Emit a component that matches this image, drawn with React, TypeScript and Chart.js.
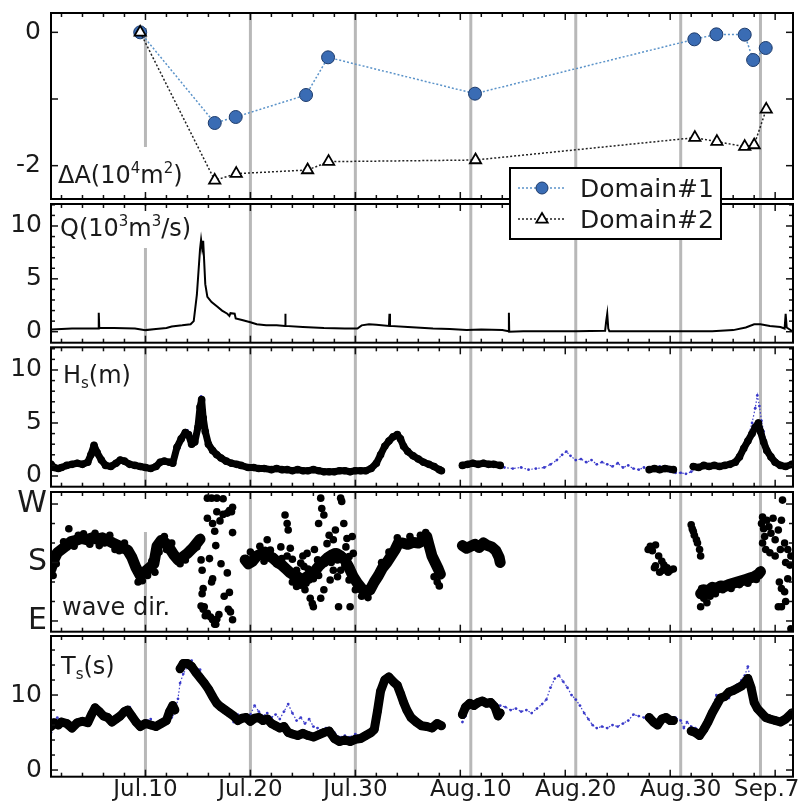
import React, { useEffect, useRef } from 'react';
import { Chart, registerables } from 'chart.js';
Chart.register(...registerables);

type Pt = [number, number | null];

// ---------------- data (x = days since Jul.1 00:00) ----------------
const surveyDays = [9, 19, 29, 40, 50, 60, 67.6];
const xLabelDays = [9, 19, 29, 40, 50, 60, 68.2];
const xLabelTexts = ['Jul.10', 'Jul.20', 'Jul.30', 'Aug.10', 'Aug.20', 'Aug.30', 'Sep.7'];
const xMajorTickDays = [9, 19, 29, 39, 49, 59, 69];
const xMinorTickDays = [1, 3, 5, 7, 11, 13, 15, 17, 21, 23, 25, 27, 31, 33, 35, 37, 41, 43, 45, 47, 51, 53, 55, 57, 61, 63, 65, 67];

const domain1: Pt[] = [[8.5, 0], [15.6, -1.36], [17.6, -1.27], [24.3, -0.94], [26.4, -0.375], [40.4, -0.92], [61.3, -0.105], [63.4, -0.03], [66.1, -0.035], [66.9, -0.415], [68.1, -0.235]];
const domain2: Pt[] = [[8.5, 0], [15.6, -2.22], [17.65, -2.12], [24.45, -2.065], [26.45, -1.94], [40.45, -1.915], [61.35, -1.58], [63.45, -1.64], [66.1, -1.715], [67.0, -1.69], [68.15, -1.155]];

const discharge: Pt[] = [[0, 0.2], [1, 0.25], [2, 0.3], [3, 0.3], [4.5, 0.3], [4.55, 1.8], [4.6, 0.35], [6, 0.35], [8, 0.3], [9, 0.15], [10, 0.25], [11, 0.35], [11.5, 0.5], [12.5, 0.6], [13.3, 0.7], [13.6, 1.0], [13.9, 3.5], [14.2, 7.8], [14.3, 8.7], [14.4, 7.9], [14.5, 8.6], [14.7, 4.5], [14.9, 3.3], [15.3, 2.8], [15.8, 2.4], [16.3, 2.0], [16.8, 1.7], [17.0, 1.5], [17.1, 1.75], [17.5, 1.7], [17.6, 1.25], [18.2, 1.1], [19, 0.9], [19.6, 0.7], [20.5, 0.6], [21.5, 0.6], [22.3, 0.55], [22.32, 1.7], [22.36, 0.55], [24, 0.45], [26, 0.35], [28, 0.3], [29.2, 0.3], [29.6, 0.6], [30.3, 0.7], [31, 0.65], [32.2, 0.55], [32.25, 1.7], [32.3, 0.55], [34, 0.45], [36.4, 0.3], [38, 0.25], [39.6, 0.15], [41, 0.2], [43.0, 0.15], [43.6, 0.05], [43.63, 1.8], [43.66, 0.0], [45, 0.05], [48, 0.05], [50, 0.05], [52.8, 0.1], [52.9, 1.0], [53.0, 1.7], [53.1, 0.3], [53.2, 0.05], [56, 0.05], [60, 0.05], [63, 0.05], [65, 0.15], [66.2, 0.4], [67.0, 0.7], [67.6, 0.7], [68.5, 0.55], [69.5, 0.45], [69.9, 0.3], [70.0, 1.7], [70.1, 0.4], [70.7, 0.0]];

const hsObserved: Pt[] = [[0, 1.1], [0.3, 0.8], [0.7, 0.7], [1, 0.8], [1.5, 1.0], [2, 1.1], [2.5, 1.2], [3, 1.1], [3.5, 1.3], [3.8, 2.0], [4.1, 2.9], [4.4, 2.2], [4.8, 1.5], [5.2, 1.0], [5.7, 0.9], [6.2, 1.2], [6.6, 1.5], [7, 1.4], [7.5, 1.1], [8, 1.0], [8.5, 0.9], [9, 0.8], [9.5, 0.7], [10, 0.9], [10.4, 1.3], [10.8, 1.4], [11.3, 1.3], [11.6, 1.2], [12, 2.7], [12.4, 3.5], [12.8, 4.1], [13.1, 3.9], [13.4, 3.0], [13.7, 3.2], [14, 4.6], [14.2, 6.5], [14.35, 7.2], [14.5, 5.5], [14.7, 4.2], [15, 3.0], [15.4, 2.4], [15.8, 2.0], [16.2, 1.7], [16.7, 1.4], [17.2, 1.2], [17.7, 1.1], [18.1, 1.0], [18.8, 0.8], [19.3, 0.8], [19.8, 0.7], [20.3, 0.7], [21, 0.6], [21.5, 0.7], [22, 0.6], [22.5, 0.6], [23, 0.5], [23.5, 0.6], [24, 0.5], [24.5, 0.5], [25, 0.6], [25.5, 0.5], [26, 0.4], [26.5, 0.4], [27, 0.4], [27.5, 0.5], [28, 0.5], [28.5, 0.4], [29, 0.5], [29.5, 0.5], [30, 0.5], [30.5, 0.7], [31, 1.2], [31.4, 2.0], [31.8, 2.8], [32.2, 3.3], [32.6, 3.7], [33, 3.9], [33.3, 3.5], [33.6, 2.8], [34, 2.3], [34.5, 1.9], [35, 1.6], [35.5, 1.3], [36, 1.1], [36.5, 0.9], [37, 0.6], [37.2, 0.5], [38, null], [39.2, 1.0], [39.7, 1.1], [40.2, 1.2], [40.7, 1.1], [41.2, 1.2], [41.7, 1.1], [42.2, 1.1], [42.8, 1.0], [50, null], [57, 0.6], [57.5, 0.7], [58, 0.6], [58.5, 0.7], [59.3, 0.6], [60, null], [61.2, 0.9], [61.7, 0.8], [62.2, 1.0], [62.7, 0.9], [63.2, 1.0], [63.7, 0.9], [64.2, 1.0], [64.7, 1.1], [65.2, 1.3], [65.6, 1.8], [66, 2.6], [66.4, 3.3], [66.8, 4.0], [67.1, 4.6], [67.4, 5.0], [67.6, 4.2], [67.9, 3.2], [68.2, 2.4], [68.6, 1.8], [69, 1.3], [69.5, 1.0], [70, 0.9], [70.6, 1.1]];

const hsModel: Pt[] = [[0, 0.9], [0.5, 0.6], [1, 0.7], [1.5, 0.9], [2, 1.0], [2.5, 1.1], [3, 1.0], [3.5, 1.2], [3.9, 2.2], [4.2, 2.6], [4.6, 2.0], [5, 1.3], [5.5, 0.9], [6, 1.1], [6.5, 1.5], [7, 1.6], [7.5, 1.2], [8, 0.9], [8.5, 0.8], [9, 0.6], [9.5, 0.6], [10, 0.8], [10.5, 1.2], [11, 1.3], [11.5, 1.4], [11.8, 1.8], [12.2, 2.6], [12.6, 3.6], [13, 4.3], [13.3, 4.0], [13.6, 3.5], [13.9, 4.8], [14.1, 6.0], [14.3, 7.5], [14.5, 6.3], [14.7, 4.6], [15, 3.2], [15.4, 2.4], [15.8, 2.0], [16.2, 1.6], [16.7, 1.3], [17.2, 1.1], [17.7, 1.0], [18.2, 0.9], [18.8, 0.7], [19.3, 0.6], [19.8, 0.5], [20.5, 0.6], [21, 0.5], [21.6, 0.6], [22.2, 0.5], [23, 0.6], [23.8, 0.5], [24.5, 0.4], [25.2, 0.5], [26, 0.4], [27, 0.5], [28, 0.4], [29, 0.5], [30, 0.5], [31, 1.0], [31.5, 1.9], [32, 2.8], [32.5, 3.6], [33, 3.8], [33.4, 3.2], [33.8, 2.5], [34.3, 2.0], [35, 1.5], [35.6, 1.2], [36.2, 0.9], [36.8, 0.6], [37.2, 0.5], [38, null], [39.2, 0.9], [39.8, 1.0], [40.5, 1.1], [41, 1.0], [41.5, 1.1], [42, 1.0], [42.6, 0.9], [43.2, 0.8], [44, 0.7], [44.8, 0.8], [45.5, 0.6], [46.2, 0.7], [47, 0.8], [47.6, 1.1], [48.2, 1.5], [48.7, 2.0], [49.1, 2.3], [49.5, 1.9], [50, 1.5], [50.5, 1.6], [51, 1.3], [51.5, 1.5], [52, 1.1], [52.5, 1.3], [53, 1.1], [53.5, 0.9], [54, 1.2], [54.5, 0.8], [55, 1.0], [55.5, 0.7], [56, 0.6], [56.5, 0.8], [57, 0.5], [57.5, 0.7], [58, 0.9], [58.5, 0.5], [59, 0.4], [59.5, 0.3], [60, 0.3], [60.5, 0.2], [61, 0.4], [61.5, 0.7], [62, 0.8], [62.5, 0.8], [63, 0.9], [63.5, 0.8], [64, 0.9], [64.5, 1.0], [65, 1.2], [65.5, 1.7], [66, 2.5], [66.4, 3.6], [66.8, 5.0], [67.1, 6.4], [67.3, 7.6], [67.5, 6.6], [67.7, 5.2], [67.9, 4.2], [68.2, 2.9], [68.6, 1.8], [69, 1.3], [69.5, 1.1], [70, 1.0], [70.6, 1.2]];

const dirBand: Pt[] = [[0, 170], [0.3, 185], [0.6, 195], [1, 200], [1.4, 205], [1.9, 212], [2.4, 214], [2.9, 217], [3.4, 215], [3.9, 218], [4.4, 216], [4.9, 218], [5.4, 214], [5.9, 210], [6.3, 207], [6.8, 203], [7.3, 199], [7.7, 188], [8.1, 172], [8.5, 160], [8.9, 165], [9.4, 172], [9.8, 178], [10.1, 205], [10.5, 214], [10.9, 210], [11.3, 202], [11.7, 192], [12.1, 184], [12.5, 188], [13, 194], [13.5, 202], [14, 212], [14.2, 216], [16, null], [18.5, 184], [18.8, 178], [19.2, 182], [19.6, 190], [20, 193], [20.4, 196], [20.8, 190], [21.2, 186], [21.6, 180], [22, 176], [22.4, 170], [22.8, 164], [23.2, 160], [23.6, 156], [24, 154], [24.4, 158], [24.8, 162], [25.2, 168], [25.6, 176], [26, 182], [26.4, 188], [26.8, 192], [27.2, 194], [27.6, 190], [28, 184], [28.4, 172], [28.8, 158], [29.2, 148], [29.6, 140], [30, 134], [30.4, 138], [30.8, 150], [31.2, 160], [31.6, 172], [32, 180], [32.4, 190], [32.8, 200], [33.1, 210], [33.5, 210], [34, 208], [34.5, 211], [35, 210], [35.5, 214], [35.8, 220], [36, 208], [36.3, 190], [36.6, 180], [36.9, 170], [37.1, 162], [38, null], [39.2, 206], [39.6, 202], [40, 205], [40.4, 208], [40.8, 203], [41.2, 210], [41.6, 206], [42, 204], [42.4, 198], [42.7, 188], [42.8, 180], [50, null], [61.9, 132], [62.2, 138], [62.6, 136], [63, 142], [63.4, 140], [63.8, 144], [64.2, 143], [64.6, 146], [65, 148], [65.4, 150], [65.8, 152], [66.2, 154], [66.6, 156], [67, 158], [67.4, 162], [67.6, 166]];

const dirScatter: Pt[] = [[1.7, 232], [0.2, 160], [2.6, 222], [4.6, 206], [6.5, 198], [8.3, 150], [9.2, 160], [9.9, 165], [10.8, 220], [13.6, 206], [12.3, 178],
  [0.5, 178], [1.2, 212], [2.2, 205], [3.1, 224], [3.7, 208], [4.2, 225], [5.1, 210], [5.6, 222], [6.1, 200], [7.0, 210], [7.5, 192], [7.9, 180], [8.7, 152], [9.6, 182], [10.3, 196], [11.0, 200], [11.5, 210], [12.8, 184], [13.2, 200], [13.9, 204],
  [14.3, 184], [14.4, 168], [14.5, 140], [14.3, 113], [14.4, 132], [14.5, 108], [14.6, 112], [14.7, 98], [14.9, 102], [15.2, 96], [15.4, 92], [15.6, 85], [15.7, 85], [14.9, 279], [15.3, 279], [15.8, 279], [16.4, 278], [14.9, 248], [15.4, 240], [15.6, 228], [15.8, 258], [16.1, 244], [16.4, 254], [16.8, 256], [17.0, 260], [17.2, 258], [17.3, 265], [17.3, 226], [15.7, 206], [15.1, 186], [15.3, 150], [15.4, 155], [16.2, 178], [16.5, 128], [16.8, 164], [17.0, 134], [16.9, 108], [17.1, 104], [17.3, 92], [15.8, 93], [16.0, 100],
  [20.6, 215], [20.9, 199], [21.2, 189], [21.9, 204], [22.2, 174], [22.3, 253], [22.5, 240], [22.6, 230], [22.8, 202], [23.1, 163], [23.3, 153], [23.4, 143], [23.8, 179], [23.9, 148], [24.1, 174], [24.2, 138], [24.4, 194], [24.6, 153], [24.7, 125], [24.9, 117], [25.0, 112], [25.2, 168], [25.4, 184], [25.5, 240], [25.7, 279], [25.8, 263], [26.0, 253], [26.1, 179], [26.3, 209], [26.5, 222], [26.6, 153], [26.9, 215], [27.1, 230], [27.3, 184], [27.4, 112], [27.6, 279], [27.7, 274], [27.9, 240], [28.1, 204], [28.2, 217], [28.4, 153], [28.5, 112], [28.7, 220], [28.8, 194], [29.0, 138],
  [27.3, 158], [27.6, 168], [26.0, 138], [24.7, 158], [23.4, 168], [25.7, 125], [28.4, 189], [26.9, 168], [26.3, 188], [25.1, 200], [24.0, 190], [23.0, 185], [22.5, 190], [22.0, 186], [21.5, 178], [27.0, 196], [28.0, 175], [28.6, 170], [25.5, 160], [24.5, 170], [23.6, 160], [26.7, 180], [27.8, 190], [28.9, 155],
  [19.0, 196], [19.9, 205], [20.3, 182], [23.0, 150], [23.8, 145], [24.3, 148], [25.0, 155], [29.6, 128], [30.2, 126], [30.6, 145], [31.5, 180], [32.2, 196], [33.0, 218], [34.2, 220], [35.2, 222],
  [36.5, 158], [36.8, 150], [37.0, 144], [35.7, 226],
  [56.9, 200], [57.1, 205], [57.3, 198], [57.6, 207], [57.9, 190], [58.2, 182], [58.4, 176], [58.7, 172], [59.0, 168], [59.3, 170], [58.0, 165], [57.6, 175], [58.8, 165], [57.5, 172], [58.3, 168],
  [61.0, 238], [61.1, 232], [61.2, 228], [61.3, 222], [61.5, 215], [61.6, 210], [61.8, 200], [61.9, 190],
  [61.9, 112], [62.5, 118], [62.2, 125], [62.0, 140], [62.4, 130], [62.8, 128], [63.3, 132], [64.0, 138], [64.8, 140], [65.6, 146], [66.4, 148], [67.2, 154],
  [67.7, 240], [67.8, 250], [67.9, 232], [68.0, 220], [68.2, 245], [68.4, 235], [68.6, 225], [68.8, 248], [69.0, 215], [69.3, 230], [69.6, 245], [69.9, 210], [70.2, 200], [70.5, 190], [67.8, 210], [68.1, 200], [68.5, 195], [69.0, 190], [69.5, 200], [70.0, 180], [70.4, 176], [69.7, 276], [69.4, 150], [69.6, 140], [69.9, 135], [70.2, 155], [69.3, 112], [69.6, 112], [70.0, 120], [70.5, 78]];

const tsObserved: Pt[] = [[0, 5.8], [0.3, 6.3], [0.7, 6.0], [1, 6.4], [1.5, 6.2], [2, 5.6], [2.5, 6.3], [3, 6.5], [3.5, 6.3], [3.9, 7.5], [4.2, 8.3], [4.6, 7.8], [5, 7.2], [5.4, 7.0], [5.8, 6.4], [6.2, 6.8], [6.6, 7.2], [7, 7.8], [7.3, 8.0], [7.7, 7.2], [8.1, 6.4], [8.5, 5.8], [9, 6.2], [9.5, 6.0], [10, 5.8], [10.5, 6.2], [11, 6.6], [11.3, 7.8], [11.6, 8.6], [11.8, 8.0], [12.0, null], [12.3, 13.5], [12.6, 14.2], [13, 14.2], [13.4, 13.8], [13.8, 13.0], [14.2, 12.3], [14.6, 11.6], [15, 10.8], [15.4, 9.8], [15.8, 8.9], [16.2, 8.4], [16.6, 8.0], [17, 7.6], [17.4, 7.2], [17.8, 6.6], [18.2, 6.9], [18.6, 7.0], [19, 6.5], [19.4, 6.9], [19.8, 7.0], [20.2, 6.6], [20.6, 6.8], [21, 6.2], [21.4, 5.9], [21.8, 5.6], [22.2, 5.8], [22.6, 5.0], [23, 4.8], [23.5, 4.6], [24, 4.9], [24.5, 4.6], [25, 4.4], [25.5, 4.7], [26, 5.0], [26.5, 5.2], [27, 4.2], [27.5, 3.8], [28, 4.0], [28.5, 3.8], [29, 4.1], [29.5, 4.2], [30, 4.6], [30.5, 5.0], [30.8, 5.4], [31.1, 7.8], [31.4, 10.5], [31.8, 12.0], [32.2, 12.4], [32.6, 11.8], [33, 11.3], [33.3, 10.2], [33.6, 9.0], [33.9, 8.0], [34.3, 7.0], [34.8, 6.4], [35.3, 5.9], [35.8, 5.8], [36.3, 5.6], [36.8, 6.2], [37.2, 5.9], [38, null], [39.2, 7.4], [39.5, 8.4], [39.9, 8.9], [40.3, 8.6], [40.7, 9.0], [41.1, 9.2], [41.5, 8.9], [41.9, 9.0], [42.3, 8.4], [42.6, 7.2], [42.8, 7.6], [50, null], [57, 7.0], [57.4, 6.4], [57.8, 6.0], [58.2, 6.8], [58.6, 7.0], [59, 6.6], [59.3, 6.6], [60, null], [61, 5.2], [61.4, 5.0], [61.8, 4.6], [62.2, 5.4], [62.6, 6.4], [63, 7.6], [63.4, 8.6], [63.8, 9.6], [64.2, 9.8], [64.6, 10.4], [65, 10.6], [65.4, 10.9], [65.8, 11.2], [66.1, 11.6], [66.4, 12.2], [66.7, 11.0], [67, 9.0], [67.3, 8.2], [67.7, 7.6], [68.1, 7.0], [68.5, 6.8], [69, 6.6], [69.5, 6.4], [70, 6.8], [70.6, 7.6]];

const tsModel: Pt[] = [[0, 5.0], [0.3, 6.5], [0.6, 7.0], [1, 6.2], [1.5, 6.6], [2, 6.0], [2.5, 6.6], [3, 6.8], [3.5, 6.4], [4, 7.6], [4.5, 7.8], [5, 7.4], [5.5, 6.6], [6, 6.2], [6.5, 7.0], [7, 7.6], [7.5, 8.4], [8, 7.0], [8.5, 6.4], [9, 6.6], [9.5, 6.8], [10, 6.0], [10.5, 6.6], [11, 6.6], [11.5, 7.0], [11.8, 7.6], [12.1, 9.5], [12.3, 11.6], [12.6, 12.8], [13, 13.8], [13.4, 14.6], [13.8, 13.6], [14.2, 13.4], [14.6, 12.0], [15, 11.2], [15.4, 10.2], [15.8, 9.4], [16.2, 8.6], [16.6, 8.2], [17, 7.8], [17.4, 6.4], [17.8, 7.4], [18.2, 7.2], [18.6, 6.8], [19, 7.4], [19.4, 8.6], [19.8, 7.8], [20.2, 7.2], [20.6, 7.6], [21, 7.0], [21.4, 7.4], [21.8, 6.8], [22.2, 7.8], [22.6, 8.8], [23, 7.6], [23.4, 6.6], [23.8, 7.0], [24.2, 6.2], [24.6, 6.8], [25, 5.8], [25.4, 5.6], [25.8, 5.2], [26.2, 5.6], [26.6, 4.8], [27, 5.0], [27.5, 4.4], [28, 4.6], [28.5, 4.4], [29, 4.8], [29.5, 4.6], [30, 5.0], [30.5, 5.2], [31, 6.4], [31.4, 9.5], [31.8, 11.4], [32.2, 12.2], [32.6, 11.6], [33, 11.0], [33.4, 10.0], [33.8, 8.8], [34.2, 7.6], [34.8, 6.6], [35.3, 6.0], [35.8, 5.6], [36.3, 5.8], [36.8, 6.0], [37.2, 6.2], [38, null], [39.2, 6.4], [39.5, 7.2], [39.9, 8.4], [40.3, 9.0], [40.7, 8.6], [41.1, 9.2], [41.5, 8.8], [41.9, 9.4], [42.3, 9.0], [42.8, 8.6], [43.3, 8.4], [43.8, 8.0], [44.3, 8.2], [44.8, 7.8], [45.3, 8.0], [45.8, 7.6], [46.3, 8.2], [46.8, 8.8], [47.2, 9.4], [47.6, 11.0], [48, 12.2], [48.4, 12.6], [48.8, 11.8], [49.2, 11.0], [49.6, 10.0], [50, 9.4], [50.4, 8.6], [50.8, 7.6], [51.2, 6.8], [51.6, 6.0], [52, 5.6], [52.5, 5.8], [53, 5.6], [53.5, 6.0], [54, 5.8], [54.5, 6.2], [55, 6.6], [55.5, 7.4], [56, 7.2], [56.5, 7.0], [57, 7.2], [57.5, 6.6], [58, 5.8], [58.5, 6.6], [59, 6.2], [59.5, 7.0], [60, 6.6], [60.3, 5.6], [60.6, 6.4], [61, 5.8], [61.4, 5.6], [61.8, 5.2], [62.2, 6.0], [62.6, 7.2], [63, 8.4], [63.4, 10.0], [63.8, 9.4], [64.2, 10.2], [64.6, 9.6], [65, 10.8], [65.4, 11.4], [65.8, 12.0], [66.1, 12.6], [66.4, 13.8], [66.6, 12.4], [66.9, 10.8], [67.2, 8.8], [67.6, 7.8], [68, 7.2], [68.5, 6.8], [69, 6.4], [69.5, 6.8], [70, 6.6], [70.6, 7.0]];

// y-axis ticks per panel
const dATickLabels = [-2, 0];
const dATickMajor = [-2, -1, 0];
const qTickLabels = [0, 5, 10];
const qTickMinor = [1, 2, 3, 4, 6, 7, 8, 9, 11, 12];
const dirTickLabels = [90, 180, 270];
const dirTickNames = ['E', 'S', 'W'];
const dirTickMinor = [120, 150, 210, 240];
const tsTickLabels = [0, 10];
const tsTickMinor = [2, 4, 6, 8, 12, 14, 16];

// ---------------- layout ----------------
const W = 807, H = 803;
const PLOT_LEFT = 51, PLOT_RIGHT = 793;
const X_MIN = 0, X_MAX = 70.7;
const FONT = "'DejaVu Sans', 'Verdana', sans-serif";
const TXT = '#1a1a1a';

type Part = [string, 'n' | 'sup' | 'sub'];
type Rect = [number, number, number, number];
interface PanelCfg {
  top: number; bottom: number; min: number; max: number;
  labels: number[]; names?: string[]; major: number[]; minor: number[];
  tickSize: number; tickPad: number;
  title: Part[]; titleX: number; titleY: number; titleSize: number;
  masks?: Rect[];
}

const PANELS: PanelCfg[] = [
  { top: 13, bottom: 199, min: -2.5, max: 0.29, labels: dATickLabels, major: dATickMajor, minor: [], tickSize: 25, tickPad: 10,
    title: [['ΔA(10', 'n'], ['4', 'sup'], ['m', 'n'], ['2', 'sup'], [')', 'n']], titleX: 58, titleY: 183, titleSize: 24, masks: [[53, 147, 140, 50], [140, 14, 10, 14]] },
  { top: 204, bottom: 342.7, min: -1.04, max: 12.08, labels: qTickLabels, major: qTickLabels, minor: qTickMinor, tickSize: 25, tickPad: 9,
    title: [['Q(10', 'n'], ['3', 'sup'], ['m', 'n'], ['3', 'sup'], ['/s)', 'n']], titleX: 60, titleY: 236, titleSize: 24, masks: [[53, 206, 144, 42]] },
  { top: 347.3, bottom: 486.7, min: -1.01, max: 12.14, labels: qTickLabels, major: qTickLabels, minor: qTickMinor, tickSize: 25, tickPad: 9,
    title: [['H', 'n'], ['s', 'sub'], ['(m)', 'n']], titleX: 63, titleY: 383, titleSize: 24 },
  { top: 492, bottom: 631.7, min: 73.5, max: 288.5, labels: dirTickLabels, names: dirTickNames, major: dirTickLabels, minor: dirTickMinor, tickSize: 30, tickPad: 4,
    title: [['wave dir.', 'n']], titleX: 62, titleY: 615, titleSize: 24, masks: [[140, 493, 10, 39]] },
  { top: 636, bottom: 776.7, min: -0.89, max: 17.87, labels: tsTickLabels, major: tsTickLabels, minor: tsTickMinor, tickSize: 25, tickPad: 9,
    title: [['T', 'n'], ['s', 'sub'], ['(s)', 'n']], titleX: 61, titleY: 674, titleSize: 24 },
];

const xy = (a: Pt[]) => a.map(([x, y]) => ({ x, y }));

function drawRich(ctx: CanvasRenderingContext2D, x: number, y: number, parts: Part[], size: number) {
  ctx.textBaseline = 'alphabetic';
  ctx.textAlign = 'left';
  ctx.fillStyle = TXT;
  let cx = x;
  for (const [t, k] of parts) {
    const s = k === 'n' ? size : Math.round(size * 0.64);
    const dy = k === 'sup' ? -size * 0.42 : k === 'sub' ? size * 0.22 : 0;
    ctx.font = `${s}px ${FONT}`;
    ctx.fillText(t, cx, y + dy);
    cx += ctx.measureText(t).width;
  }
}

function drawCircle(ctx: CanvasRenderingContext2D, x: number, y: number, r: number) {
  ctx.beginPath(); ctx.arc(x, y, r, 0, Math.PI * 2);
  ctx.fillStyle = '#3a6cb4'; ctx.fill();
  ctx.lineWidth = 1; ctx.strokeStyle = '#1d3b6b'; ctx.stroke();
}
function drawTri(ctx: CanvasRenderingContext2D, x: number, y: number, r: number) {
  ctx.beginPath();
  ctx.moveTo(x, y - r);
  ctx.lineTo(x + r * 0.95, y + r * 0.6);
  ctx.lineTo(x - r * 0.95, y + r * 0.6);
  ctx.closePath();
  ctx.fillStyle = '#fff'; ctx.fill();
  ctx.lineWidth = 1.8; ctx.strokeStyle = '#000'; ctx.stroke();
}

function makePlugin(p: PanelCfg, idx: number) {
  return {
    id: 'deco' + idx,
    beforeDatasetsDraw(chart: any) {
      const { ctx, chartArea: a, scales } = chart;
      const xs = scales.x;
      ctx.save();
      ctx.strokeStyle = '#b8b8b8';
      ctx.lineWidth = 3;
      for (const d of surveyDays) {
        const px = xs.getPixelForValue(d);
        ctx.beginPath(); ctx.moveTo(px, a.top); ctx.lineTo(px, a.bottom); ctx.stroke();
      }
      ctx.fillStyle = '#fff';
      for (const m of p.masks || []) ctx.fillRect(m[0], m[1], m[2], m[3]);
      ctx.restore();
    },
    afterDatasetsDraw(chart: any) {
      const { ctx, chartArea: a, scales } = chart;
      const xs = scales.x, ys = scales.y;
      ctx.save();
      ctx.strokeStyle = '#111';
      ctx.lineWidth = 1.5;
      const seg = (x1: number, y1: number, x2: number, y2: number) => { ctx.beginPath(); ctx.moveTo(x1, y1); ctx.lineTo(x2, y2); ctx.stroke(); };
      for (const d of xMajorTickDays) { const px = xs.getPixelForValue(d); seg(px, a.top, px, a.top + 7); seg(px, a.bottom, px, a.bottom - 7); }
      for (const d of xMinorTickDays) { const px = xs.getPixelForValue(d); seg(px, a.top, px, a.top + 4); seg(px, a.bottom, px, a.bottom - 4); }
      for (const v of p.major) { const py = ys.getPixelForValue(v); seg(a.left, py, a.left + 7, py); seg(a.right, py, a.right - 7, py); }
      for (const v of p.minor) { const py = ys.getPixelForValue(v); seg(a.left, py, a.left + 4, py); seg(a.right, py, a.right - 4, py); }
      ctx.lineWidth = 2;
      ctx.strokeStyle = '#000';
      ctx.strokeRect(a.left, a.top, a.right - a.left, a.bottom - a.top);
      drawRich(ctx, p.titleX, p.titleY, p.title, p.titleSize);
      if (idx === 0) {
        // legend
        ctx.fillStyle = '#fff';
        ctx.fillRect(510, 168, 211, 71);
        ctx.lineWidth = 2; ctx.strokeStyle = '#000';
        ctx.strokeRect(510, 168, 211, 71);
        const rows: [number, string, string, 'c' | 't'][] = [[188, 'Domain#1', '#5b93c9', 'c'], [219, 'Domain#2', '#222', 't']];
        for (const [ry, label, col, m] of rows) {
          ctx.save();
          ctx.setLineDash([2, 2]); ctx.lineWidth = 1.5; ctx.strokeStyle = col;
          seg(518, ry, 566, ry);
          ctx.restore();
          if (m === 'c') drawCircle(ctx, 542, ry, 6); else drawTri(ctx, 542, ry, 6);
          ctx.font = `25px ${FONT}`;
          ctx.fillStyle = TXT; ctx.textAlign = 'left'; ctx.textBaseline = 'alphabetic';
          ctx.fillText(label, 580, ry + 9);
        }
      }
      ctx.restore();
    },
  };
}

function datasetsFor(idx: number): any[] {
  const obs = (d: Pt[], w: number, r: number) => ({ data: xy(d), borderColor: '#000', backgroundColor: '#000', borderWidth: w, pointRadius: r, pointBackgroundColor: '#000', pointBorderWidth: 0, borderJoinStyle: 'round', borderCapStyle: 'round', spanGaps: false, order: 0 });
  const model = (d: Pt[]) => ({ data: xy(d), borderColor: 'rgba(52,52,200,0.95)', borderWidth: 1.2, borderDash: [1.5, 2], pointRadius: 1.4, pointBackgroundColor: 'rgba(52,52,200,0.95)', pointBorderWidth: 0, spanGaps: false, order: 1 });
  switch (idx) {
    case 0:
      return [
        { label: 'Domain#2', data: xy(domain2), borderColor: '#222', borderWidth: 1.5, borderDash: [2, 2], pointStyle: 'triangle', pointRadius: 6.5, pointBackgroundColor: '#fff', pointBorderColor: '#000', pointBorderWidth: 1.8, order: 0 },
        { label: 'Domain#1', data: xy(domain1), borderColor: '#5b93c9', borderWidth: 1.5, borderDash: [2, 2], pointStyle: 'circle', pointRadius: 6.5, pointBackgroundColor: '#3a6cb4', pointBorderColor: '#1d3b6b', pointBorderWidth: 1, order: 1 },
      ];
    case 1:
      return [{ label: 'Q', data: xy(discharge), borderColor: '#000', borderWidth: 2, pointRadius: 0, tension: 0 }];
    case 2:
      return [{ label: 'Hs model', ...model(hsModel) }, { label: 'Hs obs', ...obs(hsObserved, 7, 3.8) }];
    case 3:
      return [
        { label: 'dir scatter', type: 'scatter', data: xy(dirScatter), pointRadius: 3.8, pointBackgroundColor: '#000', pointBorderWidth: 0, showLine: false, order: 0 },
        { label: 'dir band', ...obs(dirBand, 11, 4), order: 1 },
      ];
    default:
      return [{ label: 'Ts model', ...model(tsModel) }, { label: 'Ts obs', ...obs(tsObserved, 9, 4.2) }];
  }
}

function buildConfig(p: PanelCfg, idx: number): any {
  const isLast = idx === PANELS.length - 1;
  return {
    type: 'line',
    data: { datasets: datasetsFor(idx) },
    plugins: [makePlugin(p, idx)],
    options: {
      responsive: false,
      animation: false,
      events: [],
      layout: { padding: { top: p.top, bottom: isLast ? 0 : H - p.bottom, left: 0, right: W - PLOT_RIGHT } },
      plugins: { legend: { display: false }, tooltip: { enabled: false } },
      scales: {
        x: {
          type: 'linear', min: X_MIN, max: X_MAX, display: isLast,
          grid: { display: false, drawTicks: false }, border: { display: false },
          ticks: { autoSkip: false, maxRotation: 0, minRotation: 0, padding: 0, color: TXT, font: { size: 23, family: FONT },
            callback: (_v: any, i: number) => xLabelTexts[i] },
          afterBuildTicks: (s: any) => { s.ticks = xLabelDays.map(v => ({ value: v })); },
          afterFit: (s: any) => { if (isLast) { s.height = H - p.bottom; } else { s.height = 0; } s.paddingLeft = 0; s.paddingRight = 0; },
        },
        y: {
          type: 'linear', min: p.min, max: p.max,
          grid: { display: false, drawTicks: false }, border: { display: false },
          ticks: { autoSkip: false, padding: p.tickPad, color: TXT, font: { size: p.tickSize, family: FONT },
            callback: (v: any, i: number) => (p.names ? p.names[i] : String(v)) },
          afterBuildTicks: (s: any) => { s.ticks = p.labels.map(v => ({ value: v })); },
          afterFit: (s: any) => { s.width = PLOT_LEFT; s.paddingTop = 0; s.paddingBottom = 0; },
        },
      },
    },
  };
}

export default function App() {
  const canvases = useRef<(HTMLCanvasElement | null)[]>([]);
  useEffect(() => {
    Chart.defaults.font.family = FONT;
    const charts = PANELS.map((p, i) => new Chart(canvases.current[i]!, buildConfig(p, i)));
    return () => charts.forEach(c => c.destroy());
  }, []);
  return (
    <div style={{ position: 'fixed', left: 0, top: 0, width: W, height: H, background: '#fff' }}>
      {PANELS.map((_, i) => (
        <canvas key={i} ref={el => { canvases.current[i] = el; }} width={W} height={H}
          style={{ position: 'absolute', left: 0, top: 0, zIndex: 10 - i }} />
      ))}
    </div>
  );
}
